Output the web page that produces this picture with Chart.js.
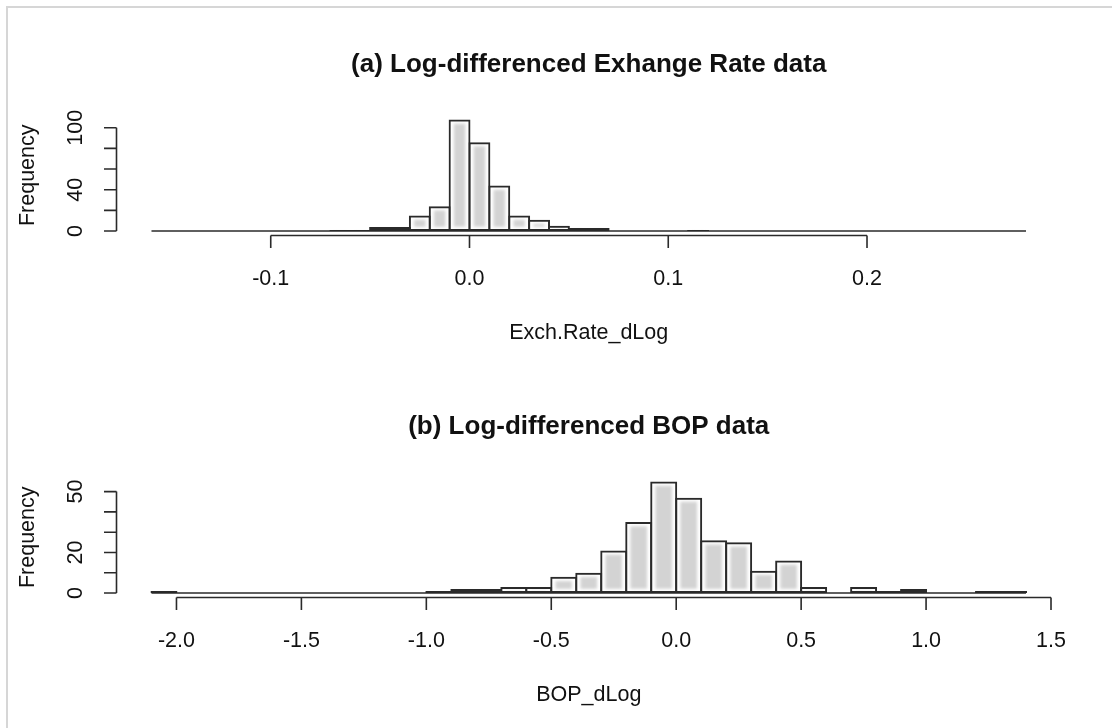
<!DOCTYPE html>
<html>
<head>
<meta charset="utf-8">
<title>Log-differenced histograms</title>
<script src="https://cdn.jsdelivr.net/npm/chart.js@4.4.1/dist/chart.umd.min.js"></script>
<style>
  html, body { margin: 0; padding: 0; background: #fff; }
  #page { position: relative; width: 1112px; height: 728px; overflow: hidden; background: #fff; }
  #frame {
    position: absolute; left: 6px; top: 6px; width: 1200px; height: 800px;
    border-left: 2px solid #d6d6d6; border-top: 2px solid #d6d6d6;
  }
  canvas { position: absolute; left: 0; }
  #rateChart { top: 0; }
  #bopChart { top: 362px; }
</style>
</head>
<body>
<div id="page">
  <div id="frame"></div>
  <canvas id="rateChart" width="1112" height="364"></canvas>
  <canvas id="bopChart" width="1112" height="364"></canvas>
</div>
<script>
// (a) exchange rate, bins of 0.01 from -0.16 to 0.28
const rateRange = [-0.16, 0.28];
const rateBinWidth = 0.01;
const rateCounts = [
  0, 0, 0, 0, 0, 0, 0, 0, 0,
  1, 1, 4, 4, 15, 24, 108, 86, 44, 15, 11, 5, 3, 3,
  0, 0, 0, 0,
  1,
  0, 0, 0, 0, 0, 0, 0, 0, 0, 0, 0, 0, 0, 0, 0, 0,
];
const rateXTicks = [-0.1, 0, 0.1, 0.2];
const rateXLabels = ["-0.1", "0.0", "0.1", "0.2"];
const rateYTicks = [0, 20, 40, 60, 80, 100];
const rateYLabels = [0, 40, 100];

// (b) balance of payments, bins of 0.1 from -2.1 to 1.4
const bopRange = [-2.1, 1.4];
const bopBinWidth = 0.1;
const bopCounts = [
  1,
  0, 0, 0, 0, 0, 0, 0, 0, 0, 0,
  1, 2, 2, 3, 3, 8, 10, 21, 35, 55, 47, 26, 25, 11, 16, 3, 0, 3, 1, 2,
  0, 0,
  1, 1,
];
const bopXTicks = [-2, -1.5, -1, -0.5, 0, 0.5, 1, 1.5];
const bopXLabels = ["-2.0", "-1.5", "-1.0", "-0.5", "0.0", "0.5", "1.0", "1.5"];
const bopYTicks = [0, 10, 20, 30, 40, 50];
const bopYLabels = [0, 20, 50];

const ink = "#2a2a2a";
const axisFont = "21.5px 'Liberation Sans', Arial, sans-serif";
const titleFont = "bold 26px 'Liberation Sans', Arial, sans-serif";

// soft edge on the grey fill only
const softFill = {
  id: "softFill",
  beforeDatasetDraw(chart, args) {
    chart.ctx.save();
    if (chart.data.datasets[args.index].soft) chart.ctx.filter = "blur(1.4px)";
  },
  afterDatasetDraw(chart) {
    chart.ctx.restore();
  },
};

// base-graphics style axes: lines only between first and last tick, ticks outward
const baseAxes = {
  id: "baseAxes",
  afterDraw(chart, _args, opts) {
    const { ctx, chartArea, scales } = chart;
    const xs = scales.x;
    const ys = scales.y;
    const bottom = chartArea.bottom;
    const left = chartArea.left;
    const cx = (chartArea.left + chartArea.right) / 2;
    const cy = (chartArea.top + chartArea.bottom) / 2;

    ctx.save();
    ctx.strokeStyle = ink;
    ctx.lineWidth = 1.6;
    ctx.beginPath();
    const xFirst = xs.getPixelForValue(opts.xTicks[0]);
    const xLast = xs.getPixelForValue(opts.xTicks[opts.xTicks.length - 1]);
    ctx.moveTo(xFirst, bottom);
    ctx.lineTo(xLast, bottom);
    opts.xTicks.forEach((v) => {
      const px = xs.getPixelForValue(v);
      ctx.moveTo(px, bottom);
      ctx.lineTo(px, bottom + 12.5);
    });
    const yFirst = ys.getPixelForValue(opts.yTicks[0]);
    const yLast = ys.getPixelForValue(opts.yTicks[opts.yTicks.length - 1]);
    ctx.moveTo(left, yFirst);
    ctx.lineTo(left, yLast);
    opts.yTicks.forEach((v) => {
      const py = ys.getPixelForValue(v);
      ctx.moveTo(left, py);
      ctx.lineTo(left - 12.5, py);
    });
    ctx.stroke();

    ctx.fillStyle = "#111";
    ctx.font = axisFont;
    ctx.textAlign = "center";
    ctx.textBaseline = "alphabetic";
    opts.xTicks.forEach((v, i) => {
      ctx.fillText(opts.xLabels[i], xs.getPixelForValue(v), bottom + 49.5);
    });
    opts.yLabels.forEach((v) => {
      ctx.save();
      ctx.translate(82, ys.getPixelForValue(v));
      ctx.rotate(-Math.PI / 2);
      ctx.fillText(String(v), 0, 0);
      ctx.restore();
    });

    ctx.fillText(opts.xTitle, cx, bottom + 103);
    ctx.save();
    ctx.translate(33.5, cy);
    ctx.rotate(-Math.PI / 2);
    ctx.fillText("Frequency", 0, 0);
    ctx.restore();

    ctx.font = titleFont;
    ctx.fillText(opts.title, cx, 72);
    ctx.restore();
  },
};

function binPoints(range, width, counts) {
  return counts.map((c, i) => ({ x: range[0] + (i + 0.5) * width, y: c }));
}

function makeHistogram(canvasId, cfg) {
  const points = binPoints(cfg.range, cfg.binWidth, cfg.counts);
  const maxCount = Math.max(...cfg.counts);
  // 4% padding on both axes, like the usual histogram plot region
  const xPad = (cfg.range[1] - cfg.range[0]) * 0.04;
  const yPad = maxCount * 0.04;

  return new Chart(document.getElementById(canvasId), {
    type: "bar",
    data: {
      datasets: [
        {
          type: "line",
          data: [{ x: cfg.range[0], y: 0 }, { x: cfg.range[1], y: 0 }],
          borderColor: ink,
          borderWidth: 1.6,
          pointRadius: 0,
          order: 1,
        },
        {
          data: points,
          backgroundColor: "rgba(0,0,0,0)",
          borderColor: ink,
          borderWidth: 2,
          borderSkipped: false,
          grouped: false,
          barPercentage: cfg.outlinePct,
          categoryPercentage: 1,
          order: 2,
        },
        {
          data: points,
          soft: true,
          backgroundColor: "#d3d3d3",
          borderColor: "#ffffff",
          borderWidth: 4.5,
          borderSkipped: false,
          grouped: false,
          barPercentage: 1,
          categoryPercentage: 1,
          order: 3,
        },
      ],
    },
    options: {
      responsive: false,
      animation: false,
      events: [],
      layout: { padding: { left: 116.5, right: 51, top: 115, bottom: 128.5 } },
      scales: {
        x: {
          type: "linear", display: false, offset: false,
          min: cfg.range[0] - xPad, max: cfg.range[1] + xPad,
        },
        y: { type: "linear", display: false, min: -yPad, max: maxCount + yPad },
      },
      plugins: {
        legend: { display: false },
        tooltip: { enabled: false },
        baseAxes: {
          title: cfg.title,
          xTitle: cfg.xTitle,
          xTicks: cfg.xTicks,
          xLabels: cfg.xLabels,
          yTicks: cfg.yTicks,
          yLabels: cfg.yLabels,
        },
      },
    },
    plugins: [softFill, baseAxes],
  });
}

makeHistogram("rateChart", {
  range: rateRange,
  binWidth: rateBinWidth,
  counts: rateCounts,
  outlinePct: 1.1,
  title: "(a) Log-differenced Exhange Rate data",
  xTitle: "Exch.Rate_dLog",
  xTicks: rateXTicks,
  xLabels: rateXLabels,
  yTicks: rateYTicks,
  yLabels: rateYLabels,
});

makeHistogram("bopChart", {
  range: bopRange,
  binWidth: bopBinWidth,
  counts: bopCounts,
  outlinePct: 1.08,
  title: "(b) Log-differenced BOP data",
  xTitle: "BOP_dLog",
  xTicks: bopXTicks,
  xLabels: bopXLabels,
  yTicks: bopYTicks,
  yLabels: bopYLabels,
});
</script>
</body>
</html>
